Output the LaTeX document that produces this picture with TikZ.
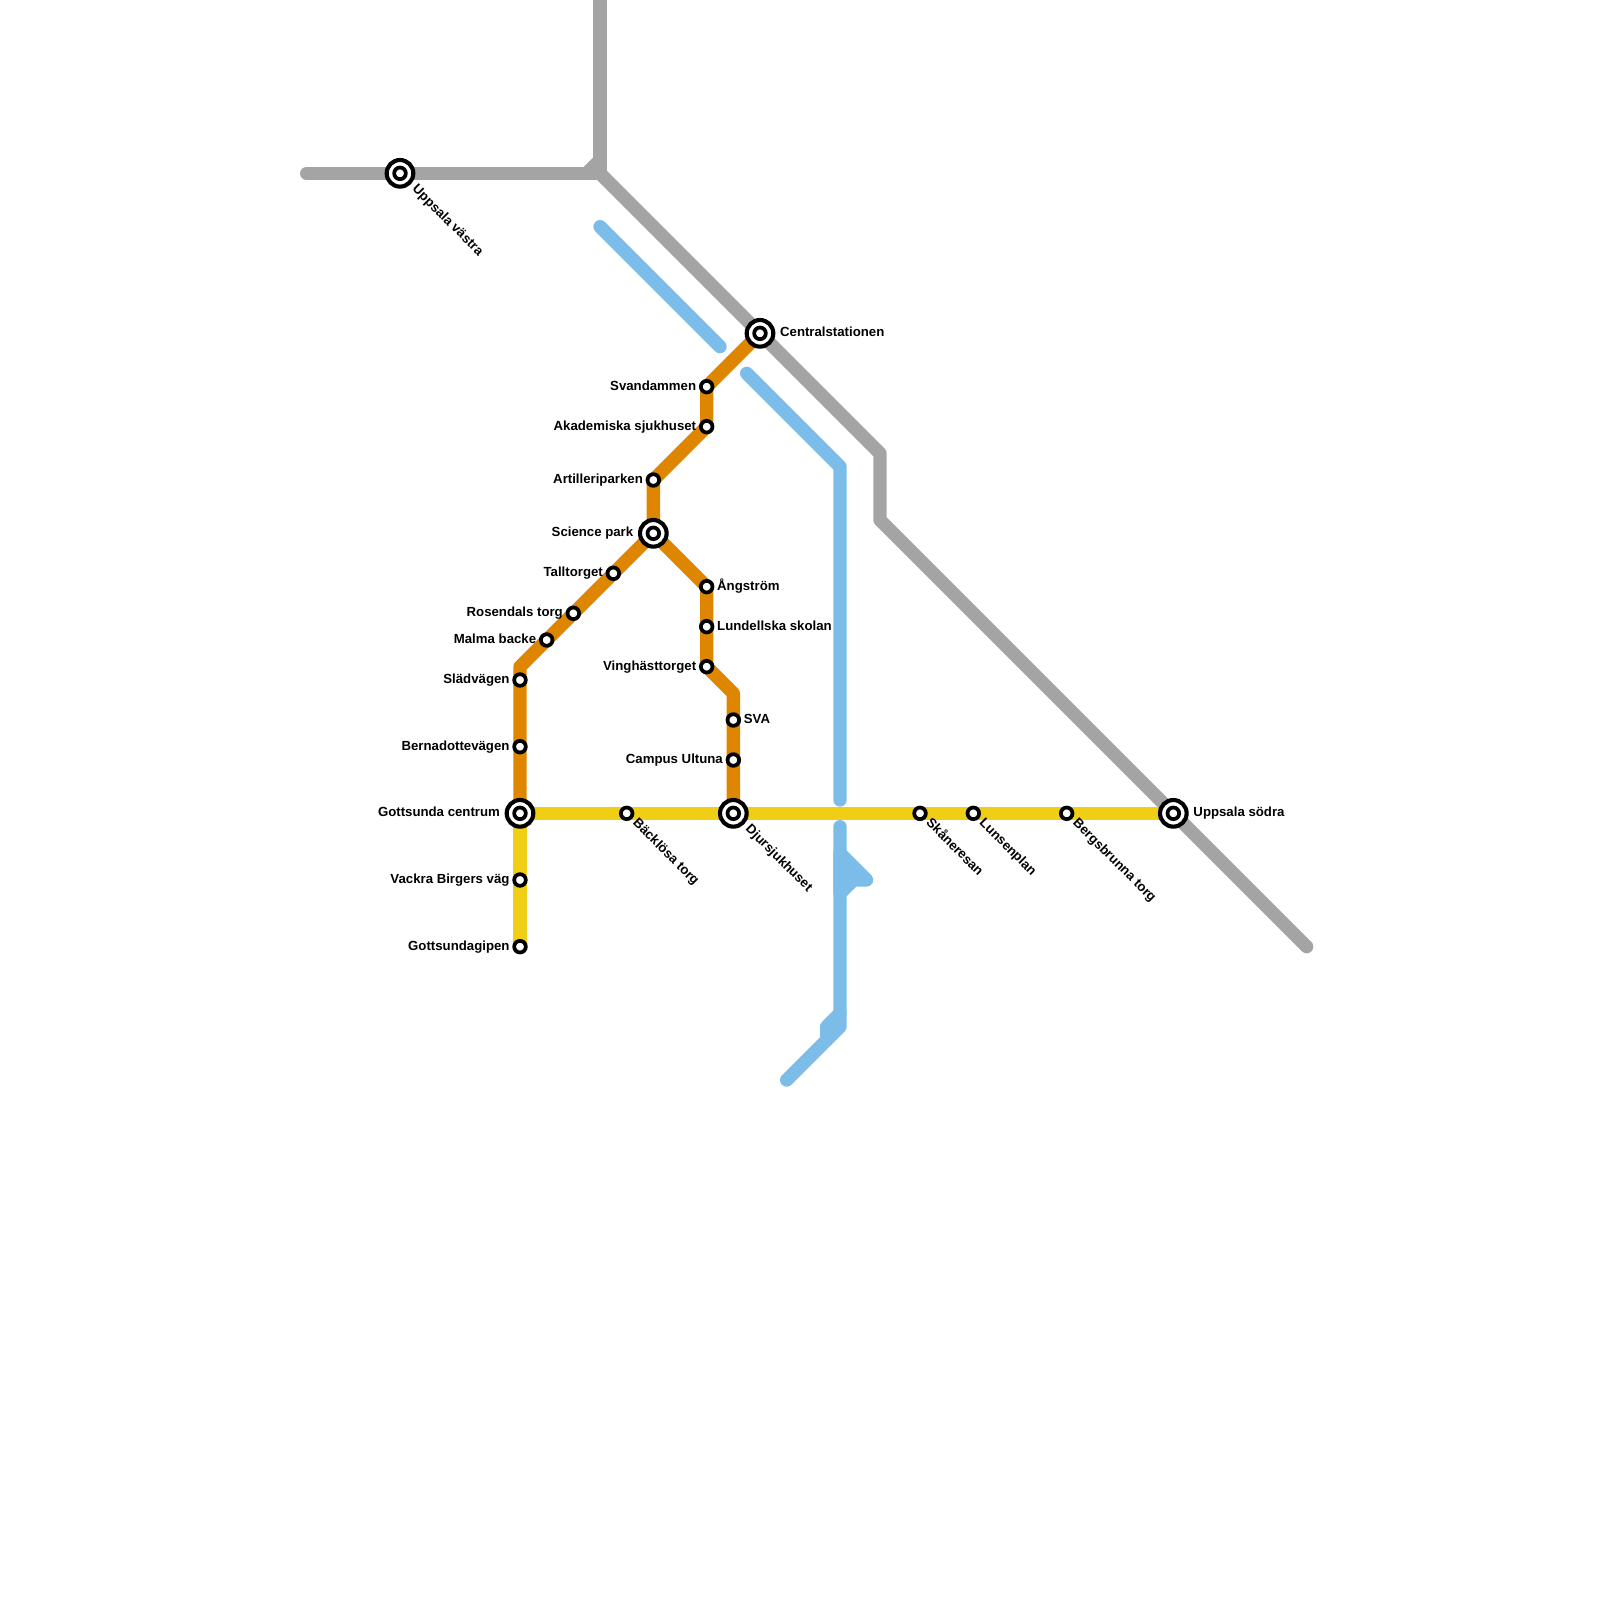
\documentclass[tikz,border=0pt]{standalone}
\usepackage{fontspec}
\setmainfont{Liberation Sans}
\usetikzlibrary{positioning}
\usetikzlibrary{backgrounds}
\definecolor{graytrack}{HTML}{A4A4A4}
\definecolor{bluetrack}{HTML}{7BBDE8}
\definecolor{orangetrack}{HTML}{DF8600}
\definecolor{yellowtrack}{HTML}{F0CE15}
\tikzset{
    track/.style={line width=0.25cm, line cap=round, line join=round},
    smallstop/.style={circle, draw=black, fill=white, line width=2pt, minimum size=6.2pt, inner sep=0pt},
    bigstop/.style={circle, draw=black, fill=white, line width=2.2pt, minimum size=14.2pt, inner sep=0pt},
    stoplabel/.style={font=\fontsize{7.05}{8}\selectfont\bfseries, inner sep=0pt, text height=5.5pt, text depth=1.9pt},
    slanted/.style={rotate=-45, anchor=west},
}
\newcommand{\smallstation}[6][]{ % Takes label style (optional), name, x coord, y coord, label placement, label text as arguments
    \node [smallstop] (#2) at (#3, #4) {};
    \node [stoplabel, #5 of #2.center, #1] (#2label) {#6};
}
\newcommand{\bigstation}[6][]{ % Same arguments, with the outer ring
    \node [bigstop] (#2) at (#3, #4) {};
    \node [smallstop] (#2inner) at (#2) {};
    \node [stoplabel, #5 of #2.center, #1] (#2label) {#6};
}
\begin{document}
\begin{tikzpicture}[x=0.25cm, y=-0.25cm]
                \useasboundingbox (0,0) rectangle (120,120);

                % Big stations
                \bigstation[slanted]{vastra}{30}{13}{below right=0.26cm and 0.26cm}{Uppsala västra}
                \bigstation{central}{57}{25}{right=0.37cm}{Centralstationen}
                \bigstation{sodra}{88}{61}{right=0.37cm}{Uppsala södra}
                \bigstation{gottsunda}{39}{61}{left=0.37cm}{Gottsunda centrum}
                \bigstation[slanted]{djur}{55}{61}{below right=0.26cm and 0.26cm}{Djursjukhuset}
                \bigstation{science}{49}{40}{left=0.37cm}{Science park}

                % Small stops, orange line
                \smallstation{svandammen}{53}{29}{left=0.19cm}{Svandammen}
                \smallstation{akademiska}{53}{32}{left=0.19cm}{Akademiska sjukhuset}
                \smallstation{artilleri}{49}{36}{left=0.19cm}{Artilleriparken}
                \smallstation{talltorget}{46}{43}{left=0.19cm}{Talltorget}
                \smallstation{rosendal}{43}{46}{left=0.19cm}{Rosendals torg}
                \smallstation{malma}{41}{48}{left=0.19cm}{Malma backe}
                \smallstation{sladvagen}{39}{51}{left=0.19cm}{Slädvägen}
                \smallstation{bernadotte}{39}{56}{left=0.19cm}{Bernadottevägen}
                \smallstation{angstrom}{53}{44}{right=0.19cm}{Ångström}
                \smallstation{lundell}{53}{47}{right=0.19cm}{Lundellska skolan}
                \smallstation{vinghast}{53}{50}{left=0.19cm}{Vinghästtorget}
                \smallstation{sva}{55}{54}{right=0.19cm}{SVA}
                \smallstation{campus}{55}{57}{left=0.19cm}{Campus Ultuna}

                % Small stops, yellow line
                \smallstation{vackra}{39}{66}{left=0.19cm}{Vackra Birgers väg}
                \smallstation{gipen}{39}{71}{left=0.19cm}{Gottsundagipen}
                \smallstation[slanted]{backlosa}{47}{61}{below right=0.145cm and 0.145cm}{Bäcklösa torg}
                \smallstation[slanted]{skane}{69}{61}{below right=0.145cm and 0.145cm}{Skåneresan}
                \smallstation[slanted]{lunsen}{73}{61}{below right=0.145cm and 0.145cm}{Lunsenplan}
                \smallstation[slanted]{bergs}{80}{61}{below right=0.145cm and 0.145cm}{Bergsbrunna torg}

                % Bends
                \coordinate (grayA) at (23,13);
                \coordinate (grayB) at (45,13);
                \coordinate (grayC) at (44,13);
                \coordinate (grayD) at (45,12);
                \coordinate (grayE) at (45,-1);
                \coordinate (grayF) at (66,34);
                \coordinate (grayG) at (66,39);
                \coordinate (grayH) at (98,71);
                \coordinate (blueA) at (45,17);
                \coordinate (blueB) at (54,26);
                \coordinate (blueC) at (56,28);
                \coordinate (blueD) at (63,35);
                \coordinate (blueE) at (63,60);
                \coordinate (blueF) at (63,62);
                \coordinate (blueG) at (63,64);
                \coordinate (blueH) at (65,66);
                \coordinate (blueI) at (64,66);
                \coordinate (blueJ) at (63,67);
                \coordinate (blueK) at (63,77);
                \coordinate (blueL) at (59,81);
                \coordinate (blueM) at (63,76);
                \coordinate (blueN) at (62,77);
                \coordinate (blueO) at (62,78);
                \coordinate (orangeA) at (39,50);
                \coordinate (orangeB) at (55,52);

                \begin{pgfonlayer}{background}
                % Gray line
                \draw[track, graytrack] (grayA) -- (vastra.center) -- (grayB) -- (grayE);
                \draw[track, graytrack] (grayC) -- (grayD);
                \draw[track, graytrack] (grayB) -- (central.center) -- (grayF) -- (grayG) -- (sodra.center) -- (grayH);

                % Blue line
                \draw[track, bluetrack] (blueA) -- (blueB);
                \draw[track, bluetrack] (blueC) -- (blueD) -- (blueE);
                \draw[track, bluetrack] (blueF) -- (blueK) -- (blueL);
                \draw[track, bluetrack, fill=bluetrack] (blueG) -- (blueH) -- (blueI) -- (blueJ) -- cycle;
                \draw[track, bluetrack] (blueM) -- (blueN) -- (blueO);

                % Yellow line
                \draw[track, yellowtrack] (gottsunda.center) -- (backlosa.center) -- (djur.center) -- (skane.center) -- (lunsen.center) -- (bergs.center) -- (sodra.center);
                \draw[track, yellowtrack] (gottsunda.center) -- (vackra.center) -- (gipen.center);

                % Orange line
                \draw[track, orangetrack] (central.center) -- (svandammen.center) -- (akademiska.center) -- (artilleri.center) -- (science.center);
                \draw[track, orangetrack] (science.center) -- (talltorget.center) -- (rosendal.center) -- (malma.center) -- (orangeA) -- (sladvagen.center) -- (bernadotte.center) -- (gottsunda.center);
                \draw[track, orangetrack] (science.center) -- (angstrom.center) -- (lundell.center) -- (vinghast.center) -- (orangeB) -- (sva.center) -- (campus.center) -- (djur.center);
                \end{pgfonlayer}
            \end{tikzpicture}
\end{document}
